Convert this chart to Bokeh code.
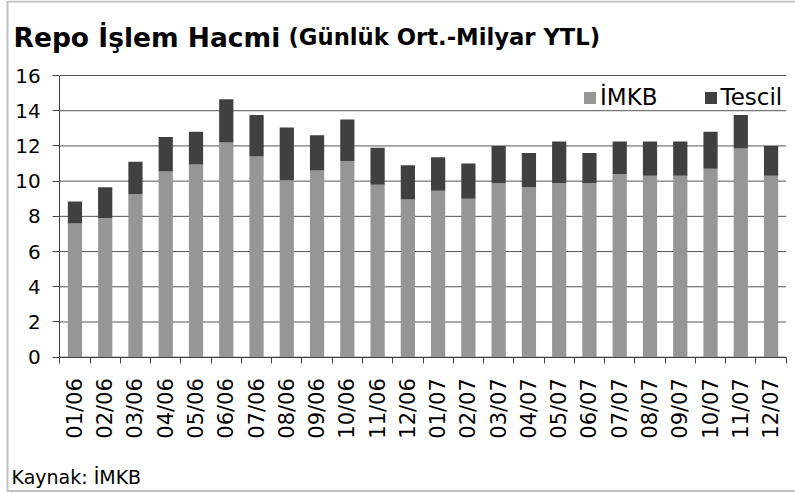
from math import pi
from bokeh.plotting import figure
from bokeh.models import (FixedTicker, Label, BoxAnnotation, Legend, LegendItem,
                          Range1d, ColumnDataSource)
from bokeh.embed import file_html
from bokeh.resources import INLINE

months = ["01/06", "02/06", "03/06", "04/06", "05/06", "06/06", "07/06", "08/06",
          "09/06", "10/06", "11/06", "12/06", "01/07", "02/07", "03/07", "04/07",
          "05/07", "06/07", "07/07", "08/07", "09/07", "10/07", "11/07", "12/07"]
imkb = [7.6, 7.9, 9.25, 10.55, 10.95, 12.2, 11.4, 10.05, 10.6, 11.15, 9.8, 8.95,
        9.45, 9.0, 9.9, 9.65, 9.9, 9.9, 10.4, 10.3, 10.3, 10.7, 11.85, 10.3]
tescil = [1.25, 1.75, 1.85, 1.95, 1.85, 2.45, 2.35, 3.0, 2.0, 2.35, 2.1, 1.95,
          1.9, 2.0, 2.1, 1.95, 2.35, 1.7, 1.85, 1.95, 1.95, 2.1, 1.9, 1.7]
y_ticks = [0, 2, 4, 6, 8, 10, 12, 14, 16]

FONT = "DejaVu Sans"
W, H = 795, 494
n = len(months)
centers = [i + 0.5 for i in range(n)]
bounds = list(range(n + 1))

# pixel geometry of the plotting area (x: 0..n, y: 0..16)
PX0, PX1 = 59.3, 785.7
PY0, PY16 = 356.7, 75.0
sx = (PX1 - PX0) / n
sy = (PY0 - PY16) / 16.0


def dx(px):
    return (px - PX0) / sx


def dy(py):
    return (PY0 - py) / sy


p = figure(width=W, height=H, output_backend="svg", toolbar_location=None,
           x_range=Range1d(dx(0), dx(W)), y_range=Range1d(dy(H), dy(0)),
           min_border=0, min_border_left=0, min_border_right=0,
           min_border_top=0, min_border_bottom=0)
p.outline_line_color = None
p.background_fill_color = "white"
p.border_fill_color = "white"
p.xgrid.visible = False
p.ygrid.visible = False

src = ColumnDataSource(dict(x=centers, imkb=imkb, tescil=tescil, month=months))

# horizontal grid lines at the y ticks, spanning the category area
p.segment(x0=[0] * len(y_ticks), x1=[n] * len(y_ticks), y0=y_ticks, y1=y_ticks,
          line_color="#555555", line_width=1)

rs = p.vbar_stack(["imkb", "tescil"], x="x", width=0.47, source=src,
                  color=["#969696", "#404040"], line_color=None)

# axes, fixed inside the canvas
xa = p.xaxis[0]
xa.fixed_location = 0
xa.bounds = (0, n)
xa.ticker = FixedTicker(ticks=centers, minor_ticks=bounds)
xa.major_label_overrides = {c: m for c, m in zip(centers, months)}
xa.major_tick_out = 0
xa.major_tick_in = 0
xa.minor_tick_out = 6
xa.minor_tick_in = 0
xa.minor_tick_line_color = "#404040"
xa.axis_line_color = "#404040"
xa.major_label_orientation = pi / 2
xa.major_label_standoff = 15
xa.major_label_text_font = FONT
xa.major_label_text_font_size = "21px"
xa.major_label_text_color = "black"

ya = p.yaxis[0]
ya.fixed_location = 0
ya.bounds = (0, 16)
ya.ticker = FixedTicker(ticks=y_ticks, minor_ticks=[])
ya.major_tick_out = 7
ya.major_tick_in = 0
ya.major_tick_line_color = "#404040"
ya.axis_line_color = "#404040"
ya.major_label_standoff = 12
ya.major_label_text_font = FONT
ya.major_label_text_font_size = "20px"
ya.major_label_text_color = "black"

legend = Legend(items=[LegendItem(label="İMKB", renderers=[rs[0]]),
                       LegendItem(label="Tescil", renderers=[rs[1]])],
                location=(582, H - 110), orientation="horizontal")
legend.label_text_font = FONT
legend.label_text_font_size = "23px"
legend.label_text_color = "black"
legend.glyph_width = 15
legend.glyph_height = 15
legend.label_standoff = 3
legend.spacing = 45
legend.padding = 0
legend.margin = 0
legend.background_fill_alpha = 0
legend.border_line_alpha = 0
p.add_layout(legend)

# titles and source note
t1 = Label(x=dx(13), y=dy(36.7), text="Repo İşlem Hacmi", text_font=FONT,
           text_font_style="bold", text_font_size="26.5px", text_color="black",
           text_baseline="alphabetic")
t2 = Label(x=dx(288), y=dy(36.7), text="(Günlük Ort.-Milyar YTL)", text_font=FONT,
           text_font_style="bold", text_font_size="22.7px", text_color="black",
           text_baseline="alphabetic")
src_lbl = Label(x=dx(11), y=dy(476.7), text="Kaynak: İMKB", text_font=FONT,
                text_font_size="19px", text_color="black",
                text_baseline="alphabetic")
for l in (t1, t2, src_lbl):
    p.add_layout(l)

border = BoxAnnotation(left=dx(7), right=dx(W + 10), top=dy(1), bottom=dy(490.5),
                       fill_alpha=0, line_color="#333333", line_width=2,
                       level="overlay")
p.add_layout(border)

open("out.html", "w").write(file_html(p, INLINE))
